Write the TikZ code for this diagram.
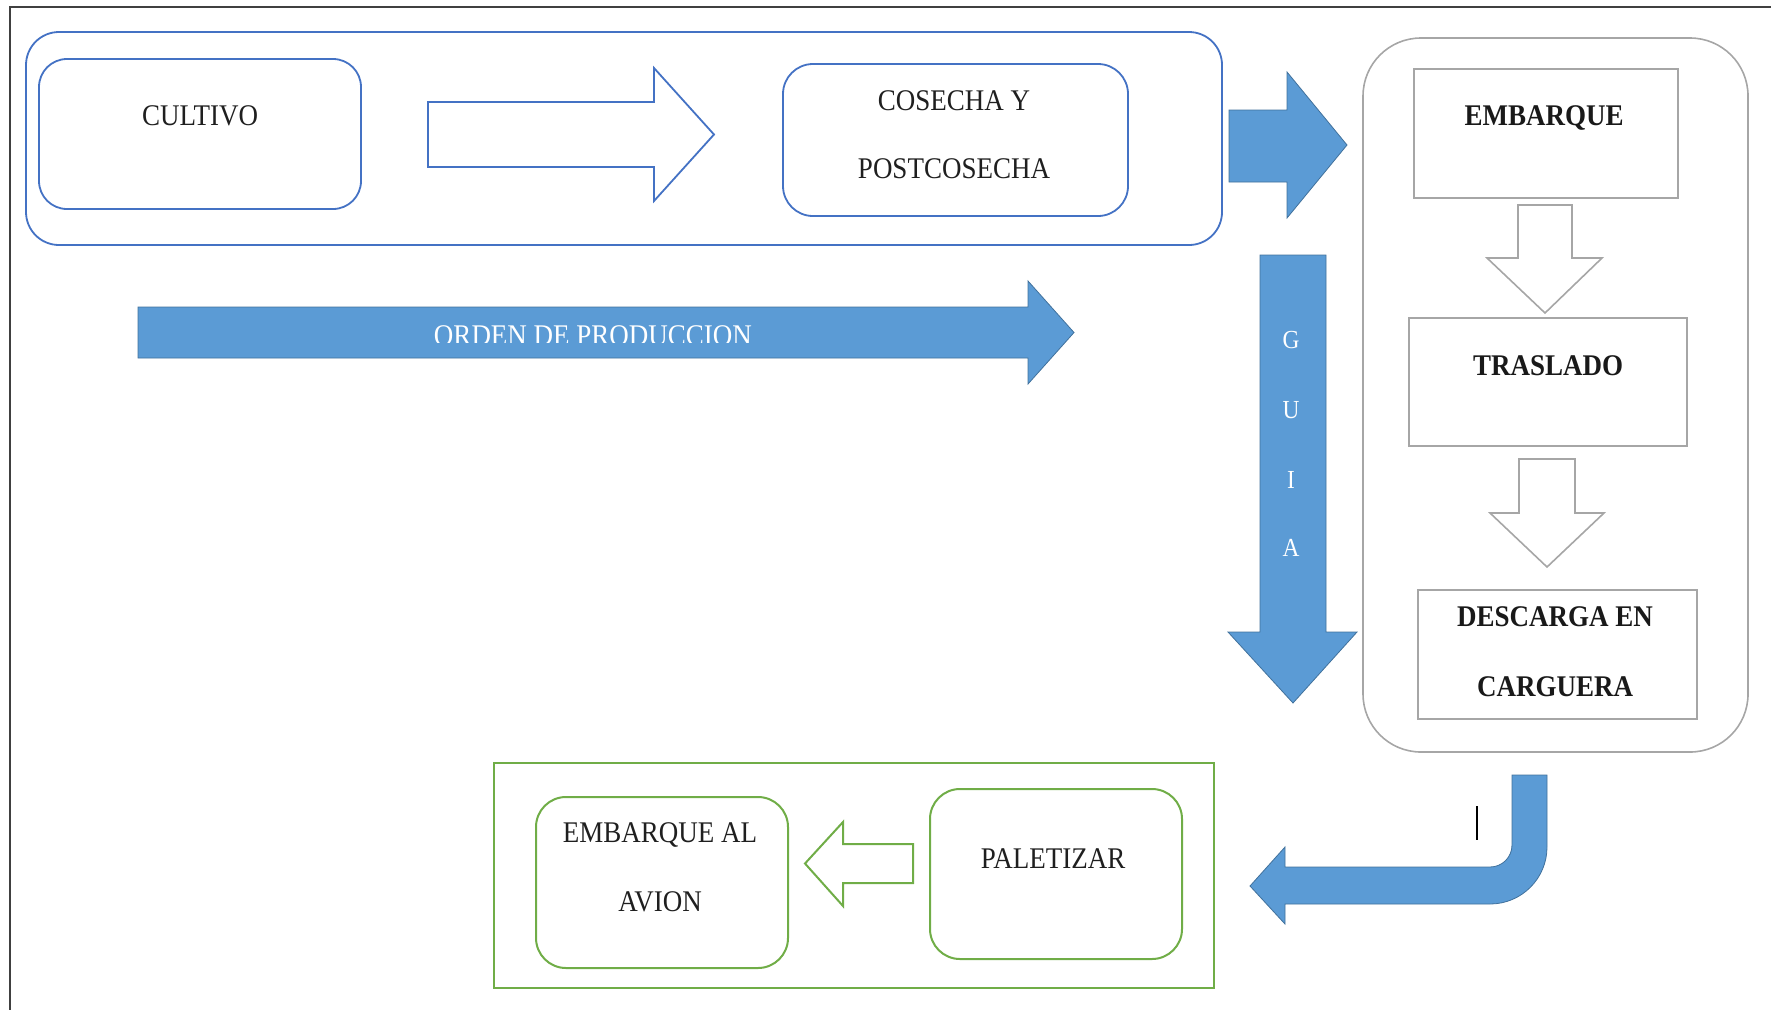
\documentclass[tikz,border=0pt]{standalone}
\usepackage{fontspec}
\setmainfont{Liberation Serif}[FakeStretch=0.9]
\definecolor{lineblue}{HTML}{4472C4}
\definecolor{fillblue}{HTML}{5B9BD5}
\definecolor{edgeblue}{HTML}{41719C}
\definecolor{boxgray}{HTML}{A6A6A6}
\definecolor{linegreen}{HTML}{70AD47}
\begin{document}
\begin{tikzpicture}[x=1pt,y=-1pt,
  lbl/.style={font=\fontsize{30}{30}\selectfont, anchor=base, inner sep=0pt, text=black!88},
  blbl/.style={font=\fontsize{30}{30}\selectfont\bfseries, anchor=base, inner sep=0pt, text=black!90},
  glbl/.style={font=\fontsize{26}{26}\selectfont, anchor=base, inner sep=0pt, text=white},
  bluebox/.style={draw=lineblue, line width=1.8pt, rounded corners=#1, inner sep=0pt},
  bluebox/.default=30pt,
  graybox/.style={draw=boxgray, line width=1.6pt, inner sep=0pt},
  greenbox/.style={draw=linegreen, line width=2pt, rounded corners=#1, inner sep=0pt},
  greenbox/.default=0pt,
  solidarrow/.style={fill=fillblue, draw=edgeblue, line width=0.8pt, line join=miter},
  hollowblue/.style={draw=lineblue, line width=1.8pt, fill=white},
  hollowgray/.style={draw=boxgray, line width=1.6pt, fill=white},
  hollowgreen/.style={draw=linegreen, line width=2pt, fill=white}
]
\useasboundingbox (0,0) rectangle (1771,1010);

% page frame
\draw[black!75, line width=1.2pt] (1771,7) -- (10,7) -- (10,1010);

% ---------- production stage ----------
\node[bluebox=33pt, minimum width=1196, minimum height=213] (prod) at (624,138.5) {};
\node[bluebox=28pt, minimum width=322, minimum height=150] (cultivo) at (200,134) {};
\node[bluebox=30pt, minimum width=345, minimum height=152] (cosecha) at (955.5,140) {};
\node[lbl] (cultivo-t) at (200,125) {CULTIVO};
\node[lbl] (cosecha-t1) at (954,110) {COSECHA Y};
\node[lbl] (cosecha-t2) at (954,178) {POSTCOSECHA};

\draw[hollowblue] (428,102) -- (654,102) -- (654,68) -- (714,134.5) -- (654,201)
  -- (654,167) -- (428,167) -- cycle;

% arrow into the shipping stage
\draw[solidarrow] (1229,110) -- (1287,110) -- (1287,72) -- (1347,145) -- (1287,218)
  -- (1287,182) -- (1229,182) -- cycle;

% production order
\draw[solidarrow] (138,307) -- (1028,307) -- (1028,281) -- (1074,332.5) -- (1028,384)
  -- (1028,358) -- (138,358) -- cycle;
\begin{scope}
  \clip (130,300) rectangle (1080,342);
  \node[lbl, text=white] (orden-t) at (593,345) {ORDEN DE PRODUCCION};
\end{scope}

% guide arrow
\draw[solidarrow] (1260,255) -- (1326,255) -- (1326,632) -- (1357,632) -- (1293,703)
  -- (1228,632) -- (1260,632) -- cycle;
\node[glbl] (g1) at (1291,348) {G};
\node[glbl] (g2) at (1291,418) {U};
\node[glbl] (g3) at (1291,488) {I};
\node[glbl] (g4) at (1291,556) {A};

% ---------- shipping stage ----------
\node[graybox, rounded corners=58pt, minimum width=385, minimum height=714] (envio) at (1555.5,395) {};
\node[graybox, minimum width=264, minimum height=129] (embarque) at (1546,133.5) {};
\node[graybox, minimum width=278, minimum height=128] (traslado) at (1548,382) {};
\node[graybox, minimum width=279, minimum height=129] (descarga) at (1557.5,654.5) {};
\node[blbl] (embarque-t) at (1544,125) {EMBARQUE};
\node[blbl] (traslado-t) at (1548,375) {TRASLADO};
\node[blbl] (descarga-t1) at (1555,626) {DESCARGA EN};
\node[blbl] (descarga-t2) at (1555,696) {CARGUERA};

\draw[hollowgray] (1518,205) -- (1572,205) -- (1572,258) -- (1602,258) -- (1545,313)
  -- (1487,258) -- (1518,258) -- cycle;
\draw[hollowgray] (1519,459) -- (1575,459) -- (1575,513) -- (1604,513) -- (1547,567)
  -- (1490,513) -- (1519,513) -- cycle;

% bent return arrow
\draw[solidarrow] (1512,775) -- (1547,775) -- (1547,847)
  .. controls (1547,878.5) and (1521.5,904) .. (1490,904)
  -- (1285,904) -- (1285,924) -- (1250,886) -- (1285,847) -- (1285,867) -- (1490,867)
  .. controls (1502.2,867) and (1512,857.2) .. (1512,845) -- cycle;
\draw[black, line width=1.5pt] (1477,806) -- (1477,840);

% ---------- loading stage ----------
\node[greenbox, minimum width=720, minimum height=225] (carga) at (854,875.5) {};
\node[greenbox=30pt, minimum width=252, minimum height=171] (avion) at (662,882.5) {};
\node[greenbox=30pt, minimum width=252, minimum height=170] (paletizar) at (1056,874) {};
\node[lbl] (avion-t1) at (660,842) {EMBARQUE AL};
\node[lbl] (avion-t2) at (660,911) {AVION};
\node[lbl] (paletizar-t) at (1053,868) {PALETIZAR};

\draw[hollowgreen] (913,844) -- (843,844) -- (843,822) -- (805,863.5) -- (843,906)
  -- (843,883) -- (913,883) -- cycle;
\end{tikzpicture}
\end{document}
